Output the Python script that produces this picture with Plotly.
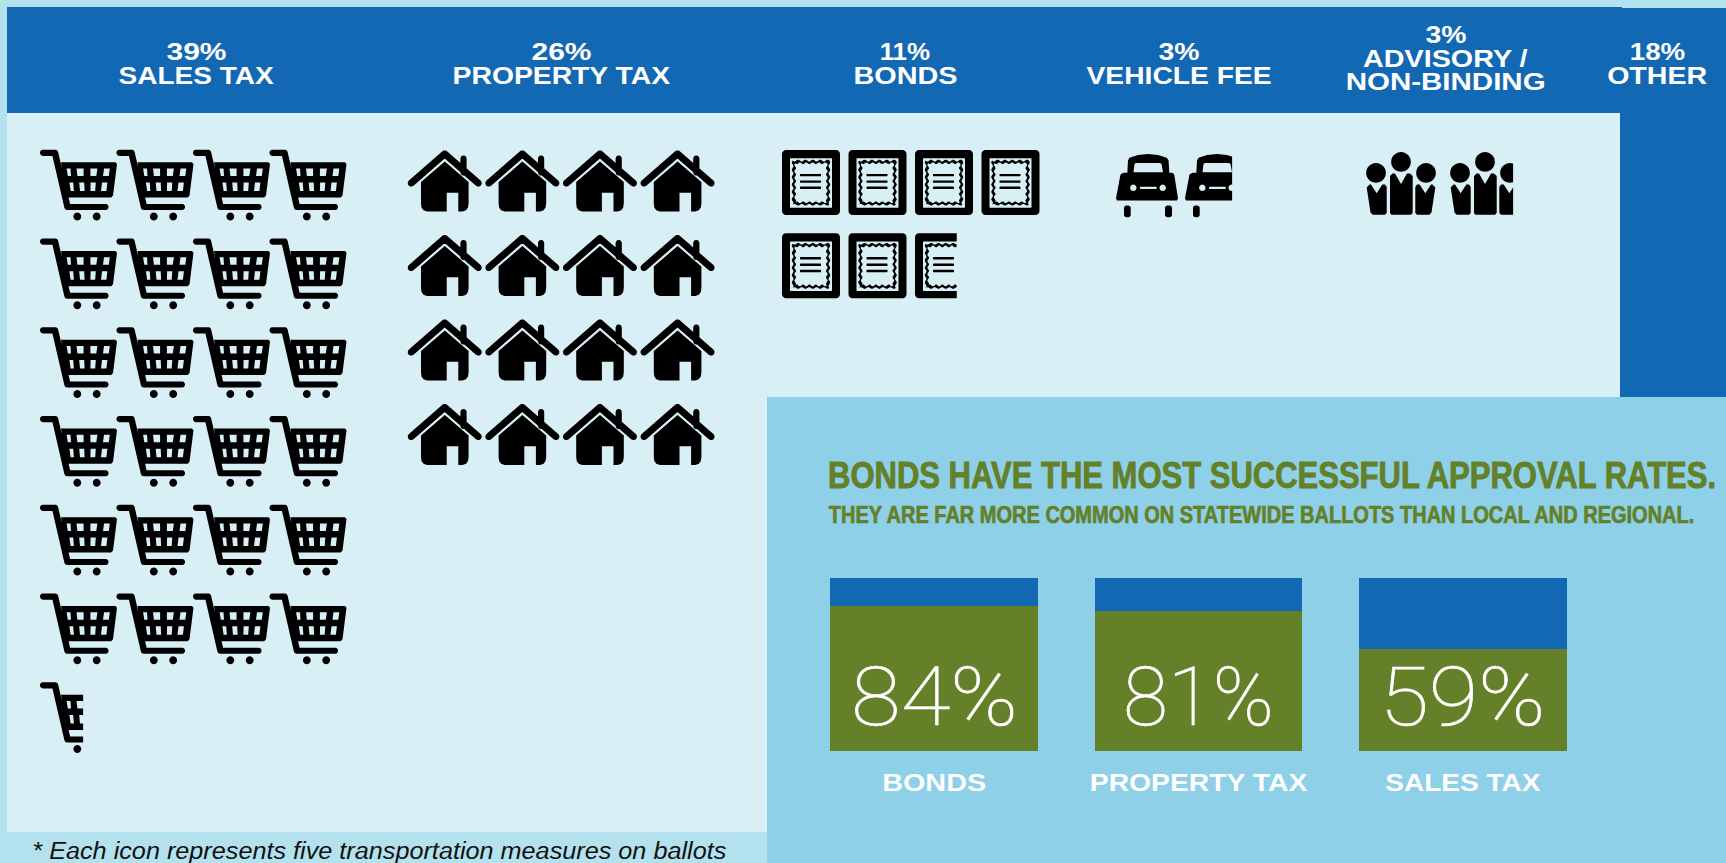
import json
import math
import plotly.graph_objects as go

# ---------- data ----------
header_categories = ["SALES TAX", "PROPERTY TAX", "BONDS", "VEHICLE FEE", "ADVISORY /|NON-BINDING", "OTHER"]
header_shares = [39, 26, 11, 3, 3, 18]
icon_counts = [24.56, 16, 6.72, 1.76, 1.9, 0]   # each icon = five measures

approval_categories = ["BONDS", "PROPERTY TAX", "SALES TAX"]
approval_rates = [84, 81, 59]
not_approved = [16, 19, 41]

title_text = "BONDS HAVE THE MOST SUCCESSFUL APPROVAL RATES."
subtitle_text = "THEY ARE FAR MORE COMMON ON STATEWIDE BALLOTS THAN LOCAL AND REGIONAL."
footnote_text = "* Each icon represents five transportation measures on ballots"

# ---------- style ----------
BG = "#b3e1ee"; LIGHT = "#d8eff6"; MID = "#8dd0e8"; BLUE = "#1368b3"; GREEN = "#648028"
W, H = 1726, 863
EXT = "Liberation Sans"
THIN = "Roboto"

# rendered width of each text in the original's extended / condensed typefaces
text_widths = {
    "39%": 60, "26%": 60, "11%": 50.5, "3%": 41, "18%": 55.5,
    "SALES TAX": 155, "PROPERTY TAX": 217.5, "BONDS": 104, "VEHICLE FEE": 185,
    "ADVISORY /": 164.5, "NON-BINDING": 200, "OTHER": 100,
    title_text: 888, subtitle_text: 865.5, footnote_text: 694,
    "84%": 167, "81%": 151, "59%": 166,
}
# extra outline weight for texts whose original face is heavier than the installed one
text_strokes = {title_text: 0.9, subtitle_text: 0.7, "84%": 0.7, "81%": 0.7, "59%": 0.7}

# ---------- icon geometry helpers ----------
def oriented(pts, hole=False):
    a = sum(pts[i][0]*pts[(i+1) % len(pts)][1]-pts[(i+1) % len(pts)][0]*pts[i][1] for i in range(len(pts)))
    if (a < 0) != hole:
        pts = pts[::-1]
    return pts

def circle(cx, cy, r, n=20):
    return [(cx+r*math.cos(2*math.pi*i/n), cy+r*math.sin(2*math.pi*i/n)) for i in range(n)]

def capsule(x1, y1, x2, y2, w, n=6):
    t = math.atan2(y2-y1, x2-x1)
    r = w/2
    pts = [(x1+r*math.cos(t+math.pi/2+math.pi*i/n), y1+r*math.sin(t+math.pi/2+math.pi*i/n)) for i in range(n+1)]
    pts += [(x2+r*math.cos(t-math.pi/2+math.pi*i/n), y2+r*math.sin(t-math.pi/2+math.pi*i/n)) for i in range(n+1)]
    return pts

def rrect(x0, y0, x1, y1, r, n=4):
    pts = []
    for cx, cy, a in [(x1-r, y0+r, -90), (x1-r, y1-r, 0), (x0+r, y1-r, 90), (x0+r, y0+r, 180)]:
        for i in range(n+1):
            t = math.radians(a+90*i/n)
            pts.append((cx+r*math.cos(t), cy+r*math.sin(t)))
    return pts

def wavy(x0, y0, x1, y1, amp, nx, ny):
    pts = []
    k = 6
    for i in range(nx*k):
        pts.append((x0+(x1-x0)*i/(nx*k), y0+amp*math.sin(2*math.pi*i/k)))
    for i in range(ny*k):
        pts.append((x1+amp*math.sin(2*math.pi*i/k), y0+(y1-y0)*i/(ny*k)))
    for i in range(nx*k):
        pts.append((x1-(x1-x0)*i/(nx*k), y1+amp*math.sin(2*math.pi*i/k)))
    for i in range(ny*k):
        pts.append((x0+amp*math.sin(2*math.pi*i/k), y1-(y1-y0)*i/(ny*k)))
    return pts

def cart():
    solid = [capsule(3, 3.3, 15, 3.3, 6.2), capsule(15, 3.3, 27.5, 57.5, 6.4), capsule(27.5, 57.5, 65.5, 57.5, 6.2),
             [(21, 12.8), (75.5, 12.8), (77, 14.5), (73, 46), (71.2, 48), (26, 48)],
             circle(37.3, 67, 3.9), circle(56.7, 67, 3.9)]
    holes = [[(26.6, 19), (30.5, 19), (31, 26.5), (27.8, 26.5)],
             [(36.5, 19), (43.6, 19), (43.6, 26.5), (37.4, 26.5)],
             [(50.4, 19), (57.4, 19), (56.3, 26.5), (50.4, 26.5)],
             [(64, 19), (69.8, 19), (68.8, 26.5), (63, 26.5)],
             [(29.4, 33), (33.2, 33), (33.9, 41.4), (30.6, 41.4)],
             [(39.2, 33), (44.2, 33), (44.6, 41.4), (40, 41.4)],
             [(50.6, 33), (55.8, 33), (55.2, 41.4), (50.4, 41.4)],
             [(62, 33), (67.4, 33), (66.4, 41.4), (61, 41.4)]]
    return solid, holes

def house():
    solid = [capsule(3.2, 32.6, 36.7, 3.4, 7), capsule(36.7, 3.4, 70.3, 32.6, 7),
             capsule(55.5, 8, 55.5, 22, 6.2),
             [(36.8, 11), (60.6, 31.5), (60.6, 53), (60, 57), (58, 59.8), (54.5, 61), (50.3, 61), (50.3, 42.3),
              (38.7, 42.3), (38.7, 61), (19, 61), (15.5, 59.8), (13.5, 57), (13, 53), (13, 31.5)]]
    return solid, []

def bond():
    solid = [rrect(0, 0, 58, 65, 4), wavy(10.6, 10.6, 47.4, 54.8, 0.9, 5, 6),
             rrect(18, 23.9, 39, 26.3, 0.6), rrect(18, 30.4, 39, 32.8, 0.6), rrect(18, 36.6, 39, 39, 0.6)]
    holes = [rrect(8, 8.3, 50, 57.7, 0.5), wavy(13.2, 13.2, 44.8, 52.2, 0.9, 5, 6)]
    return solid, holes

def car():
    solid = [[(11.3, 19.8), (12, 7), (13.5, 4.2), (22, 1.4), (32, 0.4), (42, 1.4), (50.8, 4.2), (52.6, 7), (53.3, 19.8)],
             [(7.5, 19.3), (56.3, 19.3), (58.2, 21), (62, 44.8), (61, 47), (1, 47), (0, 44.8), (4.5, 21)],
             rrect(8, 52, 14.7, 63.7, 2.5), rrect(49, 52, 56, 63.7, 2.5)]
    holes = [[(18.5, 10.4), (20, 9.4), (44, 9.4), (45.5, 10.4), (47, 18.7), (17.5, 18.7)],
             circle(17.3, 34.3, 3.2), circle(46.7, 34.3, 3.2), rrect(24, 33.2, 40.7, 35.6, 0.8)]
    return solid, holes

def people():
    solid = [circle(34, 9.9, 9.9), circle(9, 20.9, 9.9), circle(59, 20.9, 9.9),
             [(23, 24), (25.5, 21.6), (28, 21.6), (34, 32), (40, 21.6), (43, 21.6), (45.7, 24), (45.7, 61), (44, 62.8), (24.5, 62.8), (23, 61)],
             [(-0.3, 35.5), (2.5, 32.6), (4, 32.6), (9.7, 41.3), (15.3, 32.6), (18, 32.6), (19.7, 35), (19.7, 61), (18, 62.8), (5.7, 62.8), (3.5, 60.5)],
             [(68.3, 35.5), (65.5, 32.6), (64, 32.6), (58.3, 41.3), (52.7, 32.6), (50, 32.6), (48.3, 35), (48.3, 61), (50, 62.8), (62.3, 62.8), (64.5, 60.5)]]
    return solid, []

def icon_path(icon, ox, oy):
    solid, holes = icon
    parts = []
    for group, hole in ((solid, False), (holes, True)):
        for pts in group:
            pts = oriented(pts, hole)
            parts.append("M" + "L".join(f"{ox+x:.2f},{oy+y:.2f}" for x, y in pts) + "Z")
    return "".join(parts)

# icon, left, top, col pitch, row pitch, width, height
icon_grids = [
    (cart(), 40, 149.5, 76.5, 88.75, 77, 71),
    (house(), 408, 150.5, 77.6, 84.5, 73.5, 61),
    (bond(), 782, 150, 66.5, 83.2, 58, 65),
    (car(), 1116, 153.5, 69, 85, 62, 64),
    (people(), 1367, 152, 84, 85, 69, 63),
]
PER_ROW = 4

shapes = []
def rect(x0, y0, x1, y1, c, layer="below"):
    shapes.append(dict(type="rect", xref="x", yref="y", x0=x0, y0=y0, x1=x1, y1=y1,
                       fillcolor=c, line=dict(width=0), layer=layer))

rect(7, 113, 1620, 832, LIGHT)
rect(7, 7, 1622, 113, BLUE)
rect(1620, 8, W, 397, BLUE)
rect(767, 397, W, H, MID)

for count, grid in zip(icon_counts, icon_grids):
    icon, left, top, dx, dy, iw, ih = grid
    for i in range(math.ceil(count)):
        x = left+dx*(i % PER_ROW)
        y = top+dy*(i//PER_ROW)
        shapes.append(dict(type="path", xref="x", yref="y", path=icon_path(icon, x, y),
                           fillcolor="#000000", fillrule="nonzero", line=dict(width=0), layer="above"))
        frac = count-i
        if frac < 1:
            rect(x+iw*frac, y-2, x+iw+3, y+ih+2, LIGHT, layer="above")

# ---------- figure ----------
fig = go.Figure()
fig.add_bar(x=approval_categories, y=approval_rates, marker=dict(color=GREEN, line=dict(width=0)), xaxis="x2", yaxis="y2", hoverinfo="skip")
fig.add_bar(x=approval_categories, y=not_approved, marker=dict(color=BLUE, line=dict(width=0)), xaxis="x2", yaxis="y2", hoverinfo="skip")

ann = []
def text(x, y, t, size, color="#ffffff", fam=EXT, weight=None, style=None, xref="x", yref="y"):
    ann.append(dict(x=x, y=y, text=t, xref=xref, yref=yref, xanchor="center", yanchor="middle", showarrow=False,
                    font=dict(family=fam, size=size, color=color, weight=weight, style=style)))

header_centers = [196, 561, 905, 1179, 1445.5, 1657]
for cat, share, cx in zip(header_categories, header_shares, header_centers):
    lines = [f"{share}%"]+cat.split("|")
    first = 52 if len(lines) == 2 else 35
    for k, line in enumerate(lines):
        text(cx, first+k*23.5, line, 23.5, weight=700)

text(1272, 475, title_text, 37, GREEN, EXT, 700)
text(1261, 514.5, subtitle_text, 24, GREEN, EXT, 700)
text(379, 851, footnote_text, 23.5, "#111111", EXT, 400, "italic")

for cat, v in zip(approval_categories, approval_rates):
    text(cat, 31, f"{v}%", 82, "#ffffff", THIN, 100, xref="x2", yref="y2")

fig.update_layout(
    width=W, height=H, margin=dict(l=0, r=0, t=0, b=0), showlegend=False, autosize=False,
    paper_bgcolor=BG, plot_bgcolor="rgba(0,0,0,0)", barmode="stack", bargap=1-208/264.5,
    shapes=shapes, annotations=ann,
    xaxis=dict(range=[0, W], visible=False, domain=[0, 1], fixedrange=True),
    yaxis=dict(range=[H, 0], visible=False, domain=[0, 1], fixedrange=True),
    xaxis2=dict(domain=[802/W, 1595/W], anchor="y2", type="category", range=[-0.5, 2.5], showgrid=False, showline=False,
                ticks="", ticklabelstandoff=15, tickfont=dict(family=EXT, size=23.5, color="#ffffff", weight=700), fixedrange=True),
    yaxis2=dict(domain=[(H-751)/H, (H-578)/H], anchor="x2", range=[0, 100], visible=False, fixedrange=True),
)

script = """
document.body.style.margin = '0';
var widths = %s, strokes = %s;
document.querySelectorAll('svg text').forEach(function (t) {
  var key = t.textContent, w = widths[key], s = strokes[key];
  if (w) { t.setAttribute('textLength', w); t.setAttribute('lengthAdjust', 'spacingAndGlyphs'); }
  if (s) { t.style.stroke = t.style.fill; t.style.strokeWidth = s + 'px'; }
});
""" % (json.dumps(text_widths), json.dumps(text_strokes))

fig.write_html("out.html", config=dict(displayModeBar=False), post_script=script)
